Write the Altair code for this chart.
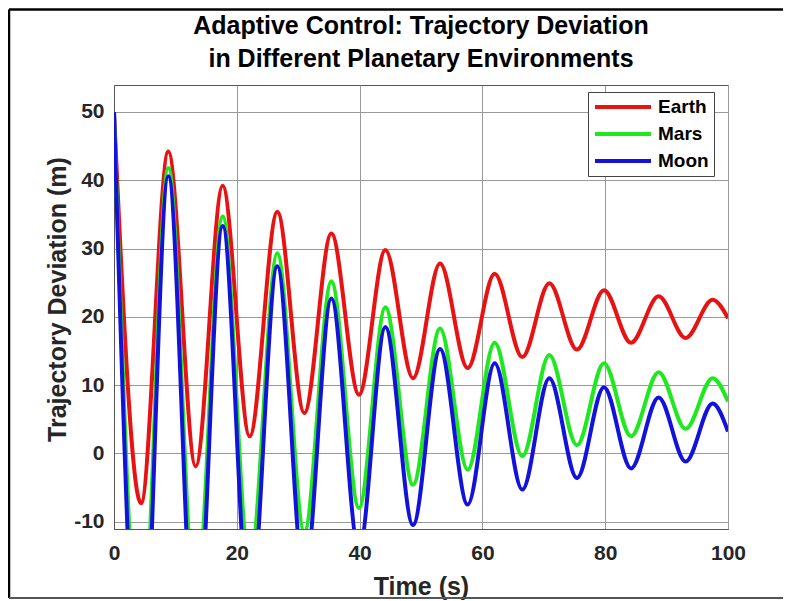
import altair as alt
import pandas as pd

# Extrema times (s) shared by the three damped responses, plus start and end
times = [0, 4.4, 8.85, 13.3, 17.7, 22.1, 26.6, 31.0, 35.4, 39.9, 44.2, 48.7,
         53.1, 57.6, 62.0, 66.5, 70.9, 75.4, 79.8, 84.2, 88.7, 93.1, 97.5, 100]

# Trajectory deviation (m) at those times
earth = [50, -7.3, 44.2, -1.9, 39.2, 2.5, 35.4, 5.9, 32.2, 8.6, 29.8, 11.0,
         27.8, 12.5, 26.3, 14.1, 24.9, 15.2, 23.9, 16.2, 23.0, 16.9, 22.5, 19.8]
mars = [50, -30.4, 41.8, -22.6, 34.7, -16.4, 29.3, -11.5, 25.2, -8.0, 21.4, -4.6,
        18.3, -2.4, 16.2, -0.4, 14.4, 1.2, 13.2, 2.5, 11.9, 3.6, 11.0, 7.6]
moon = [50, -39.0, 40.6, -30.6, 33.3, -23.9, 27.4, -18.4, 22.7, -14.1, 18.5, -10.5,
        15.3, -7.5, 13.2, -5.3, 11.0, -3.6, 9.7, -2.2, 8.2, -1.2, 7.3, 3.2]

series_names = ["Earth", "Mars", "Moon"]
series_colors = ["#e81212", "#1ee81e", "#1212dc"]
x_ticks = [0, 20, 40, 60, 80, 100]
y_ticks = [-10, 0, 10, 20, 30, 40, 50]

rows = []
for name, vals in zip(series_names, [earth, mars, moon]):
    for t, v in zip(times, vals):
        rows.append({"Time": t, "Deviation": v, "Planet": name})
df = pd.DataFrame(rows)

FONT = "Liberation Sans"

lines = alt.Chart(df).mark_line(
    interpolate="monotone", strokeWidth=4, clip=True
).encode(
    x=alt.X("Time:Q",
            scale=alt.Scale(domain=[0, 100], nice=False, zero=False),
            axis=alt.Axis(values=x_ticks, title="Time (s)", labelPadding=13,
                          labelFlush=False, titleBaseline="bottom", titleY=70)),
    y=alt.Y("Deviation:Q",
            scale=alt.Scale(domain=[-11.07, 53.95], nice=False, zero=False),
            axis=alt.Axis(values=y_ticks, title="Trajectory Deviation (m)",
                          labelPadding=10, labelFlush=False,
                          labelExpr="'' + datum.value",
                          titleX=-44, titleY=214)),
    color=alt.Color("Planet:N",
                    scale=alt.Scale(domain=series_names, range=series_colors),
                    legend=alt.Legend(orient="none", legendX=474, legendY=7,
                                      title=None, symbolType="stroke",
                                      symbolSize=3136, symbolStrokeWidth=4,
                                      clipHeight=20, rowPadding=7,
                                      labelFont=FONT, labelFontSize=19,
                                      labelFontWeight="bold", labelColor="black",
                                      labelOffset=5, padding=5,
                                      strokeColor="#444444", fillColor="white")),
)

one = pd.DataFrame({"k": [0]})
frame_top = alt.Chart(one).mark_rule(color="black", strokeWidth=2.5, clip=False).encode(
    x=alt.value(-105), x2=alt.value(700), y=alt.value(-75.5))
frame_left = alt.Chart(one).mark_rule(color="black", strokeWidth=2.5, clip=False).encode(
    x=alt.value(-105), y=alt.value(-75.5), y2=alt.value(513))
frame_bottom = alt.Chart(one).mark_rule(color="#555555", strokeWidth=2, clip=False).encode(
    x=alt.value(-105), x2=alt.value(700), y=alt.value(513))

chart = alt.layer(frame_top, frame_left, frame_bottom, lines).properties(
    width=614,
    height=444,
    padding={"left": 106, "top": 77, "right": 55, "bottom": 72},
    autosize=alt.AutoSizeParams(type="none"),
    title=alt.TitleParams(
        text=["Adaptive Control: Trajectory Deviation",
              "in Different Planetary Environments"],
        font=FONT, fontSize=25, fontWeight="bold", color="black",
        anchor="middle", offset=-64, lineHeight=33),
).configure_view(
    stroke="#555555", strokeWidth=1
).configure_axis(
    labelFont=FONT, labelFontSize=21, labelFontWeight="bold", labelColor="#262626",
    titleFont=FONT, titleFontSize=25, titleFontWeight="bold", titleColor="#262626",
    ticks=False, tickSize=0, domainColor="#555555", gridColor="#999999",
    gridWidth=1,
)

chart.save("out.html", embed_options={"renderer": "svg", "actions": False})
